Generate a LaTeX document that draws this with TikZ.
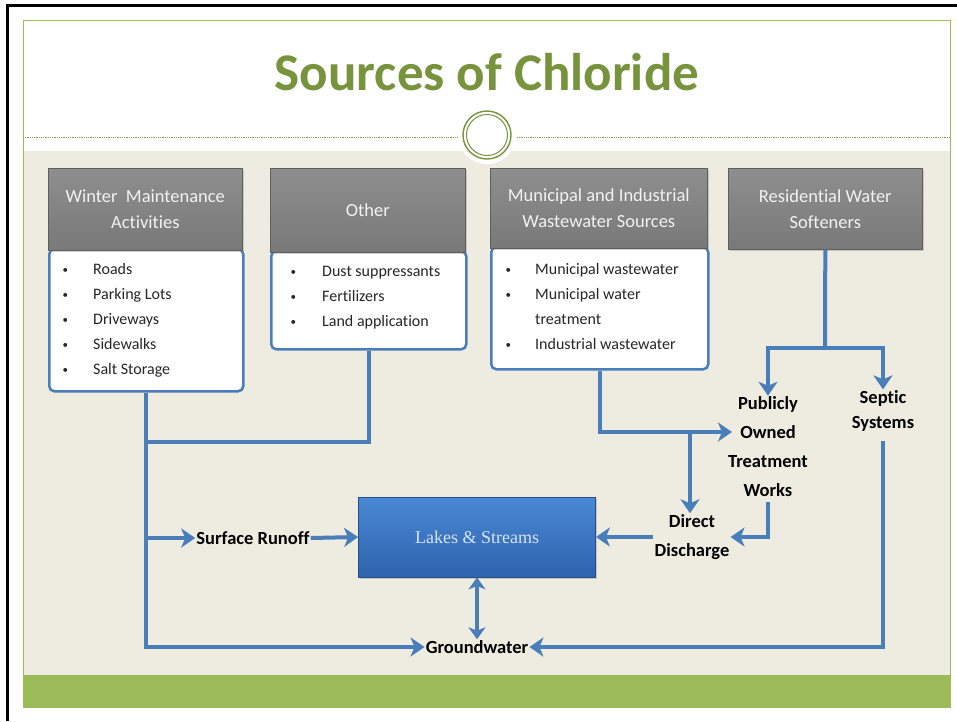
\documentclass[tikz,border=0pt]{standalone}
\usepackage{fontspec}
\setmainfont{Carlito}[Ligatures=NoCommon]
\newfontfamily\lakesfont{Liberation Serif}
\usetikzlibrary{arrows.meta,shadows}
\definecolor{titlegreen}{HTML}{77933C}
\definecolor{bandgreen}{HTML}{9BBB59}
\definecolor{beige}{HTML}{EEECE1}
\definecolor{flowblue}{HTML}{4A7EBB}
\definecolor{hdrgray}{HTML}{7F7F7F}
\definecolor{hdrtext}{HTML}{F2F2F2}
\definecolor{lakestop}{HTML}{4A88D4}
\definecolor{lakesbot}{HTML}{2E63AE}
\definecolor{listgray}{HTML}{262626}
\newcommand{\bul}[1]{\makebox[#1][l]{\hspace{1.5pt}\raisebox{1pt}{\fontsize{11}{11}\selectfont •}}}
\begin{document}
\begin{tikzpicture}[x=1pt,y=-1pt,
  hdr/.style={draw=hdrgray!75!black, line width=0.6pt, top color=hdrgray!88!white, bottom color=hdrgray!95!black,
    text=hdrtext, font=\fontsize{18.5}{26}\selectfont, align=center, inner sep=0pt, anchor=north west,
    drop shadow={opacity=0.35, shadow xshift=1.5pt, shadow yshift=-1.5pt}},
  bodybox/.style={draw=flowblue, line width=2.5pt, fill=white, rounded corners=5pt, anchor=north west, inner sep=0pt},
  listtext/.style={font=\fontsize{16}{25}\selectfont, text=listgray, align=left, inner sep=0pt, anchor=north west},
  lbl/.style={font=\bfseries\fontsize{18.5}{29}\selectfont, align=center, inner sep=1pt},
  flow/.style={draw=flowblue, line width=4pt},
  arr/.style={flow, -{Stealth[length=14pt,width=19pt,inset=4pt]}},
  darr/.style={flow, {Stealth[length=12pt,width=17pt,inset=3.5pt]}-{Stealth[length=12pt,width=17pt,inset=3.5pt]}}
]
\useasboundingbox (0,0) rectangle (957,721);
\fill[white] (0,0) rectangle (957,721);
% frame
\draw[black, line width=3.5pt] (7.5,721) -- (7.5,5.5) -- (957,5.5);
\fill[beige] (23,151) rectangle (950,675);
\fill[bandgreen] (23,675) rectangle (950,707);
\draw[bandgreen, line width=1pt] (23,20) rectangle (950,707);
\draw[bandgreen!85!black, densely dotted, line width=0.8pt] (23,137) -- (458,137) (517,137) -- (950,137);
\fill[white] (487,135) circle[radius=29pt];
\draw[titlegreen, line width=1.4pt] (487,135) circle[radius=24pt];
\draw[titlegreen, line width=1pt] (487,135) circle[radius=20.5pt];
\node[anchor=base, inner sep=0pt, text=titlegreen, font=\bfseries\fontsize{53}{60}\selectfont] (title) at (487,90) {Sources of Chloride};

% bodies
\node[bodybox, minimum width=194pt, minimum height=142pt] (wbody) at (48,248) {};
\node[bodybox, minimum width=195pt, minimum height=98pt] (obody) at (270,250) {};
\node[bodybox, minimum width=217pt, minimum height=122pt] (mbody) at (490,246) {};
% headers
\node[hdr, minimum width=194pt, minimum height=82pt] (whdr) at (48,168) {Winter\ \ Maintenance\\Activities};
\node[hdr, minimum width=195pt, minimum height=84pt] (ohdr) at (270,168) {Other};
\node[hdr, minimum width=217pt, minimum height=80pt] (mhdr) at (490,168) {Municipal and Industrial\\Wastewater Sources};
\node[hdr, minimum width=194pt, minimum height=81pt] (res) at (728,168) {Residential Water\\Softeners};
% lists
\node[listtext] (wlist) at (61,263) {\bul{32pt}Roads\\\bul{32pt}Parking Lots\\\bul{32pt}Driveways\\\bul{32pt}Sidewalks\\\bul{32pt}Salt Storage};
\node[listtext] (olist) at (289,266) {\bul{33pt}Dust suppressants\\\bul{33pt}Fertilizers\\\bul{33pt}Land application};
\node[listtext] (mlist) at (504,263) {\bul{31pt}Municipal wastewater\\\bul{31pt}Municipal water\\\makebox[31pt][l]{}treatment\\\bul{31pt}Industrial wastewater};

% lakes
\node[draw=lakesbot!80!black, line width=0.8pt, top color=lakestop, bottom color=lakesbot, minimum width=237pt, minimum height=80pt,
  inner sep=0pt, text={rgb,255:red,215;green,226;blue,242}, font=\lakesfont\fontsize{18}{22}\selectfont,
  drop shadow={opacity=0.35, shadow xshift=1.5pt, shadow yshift=-1.5pt}] (lakes) at (477,537) {Lakes \& Streams};

% labels
\node[lbl] (runoff) at (253,538) {Surface Runoff};
\node[lbl] (ground) at (477,647) {Groundwater};
\node[lbl] (potw) at (768,447) {Publicly\\Owned\\Treatment\\Works};
\node[lbl, font=\bfseries\fontsize{18.5}{25}\selectfont] (septic) at (883,411) {Septic\\Systems};
\node[lbl] (discharge) at (692,537) {Direct\\Discharge};

% junctions
\coordinate (jW) at (145,442);
\coordinate (jSR) at (145,538);
\coordinate (potwin) at (732,432);
\coordinate (jM) at (690,432);
\coordinate (jR) at (825,348);

% connectors
\draw[flow] (obody.south) |- (jW);
\draw[arr] (wbody.south) |- (ground.west);
\draw[arr] (jSR) -- (runoff.west);
\draw[arr] (runoff.east) -- (lakes.west);
\draw[darr] (lakes.south) -- (ground.north);
\draw[arr] (mbody.south) |- (potwin);
\draw[arr] (jM) -- (jM |- discharge.north);
\draw[flow] (res.south) -- (jR);
\draw[arr] (jR) -| (potw.north);
\draw[arr] (jR) -| (septic.north);
\draw[arr, shorten <=4pt] (potw.south) |- (discharge.east);
\draw[arr] (discharge.west) -- (lakes.east);
\draw[arr, shorten <=8pt] (septic.south) |- (ground.east);
\end{tikzpicture}
\end{document}
